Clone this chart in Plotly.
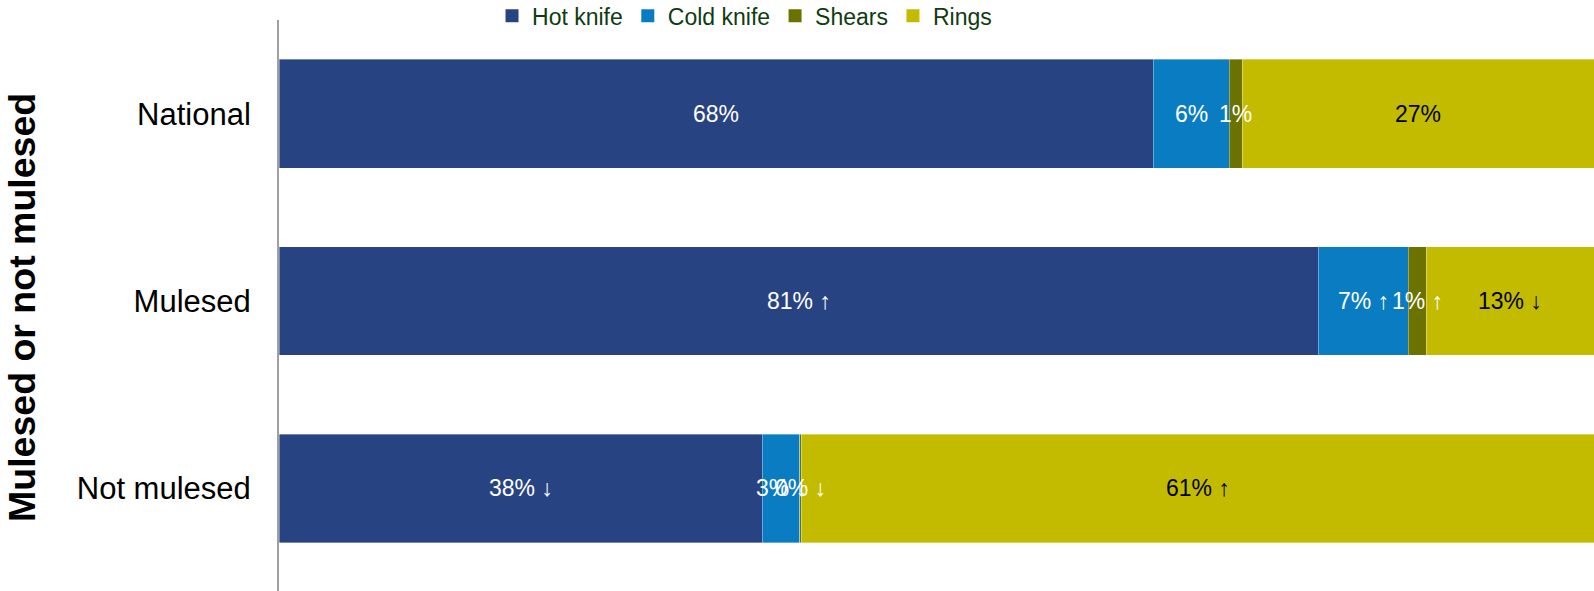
import plotly.graph_objects as go

categories = ["National", "Mulesed", "Not mulesed"]
series_names = ["Hot knife", "Cold knife", "Shears", "Rings"]
hot_knife = [67.8, 80.6, 37.5]
cold_knife = [5.9, 7.0, 2.9]
shears = [1.0, 1.4, 0.1]
rings = [27.3, 13.0, 61.5]
hot_labels = ["68%", "81% ↑", "38% ↓"]
cold_labels = ["6%", "7% ↑", "3% ↓"]
shears_labels = ["1%", "1% ↑", "0% ↓"]
rings_labels = ["27%", "13% ↓", "61% ↑"]

values = [hot_knife, cold_knife, shears, rings]
labels = [hot_labels, cold_labels, shears_labels, rings_labels]
colors = ["#284382", "#0A7CC2", "#6B7200", "#C3BB00"]
text_colors = ["white", "white", "white", "black"]

FONT = "Liberation Sans, Arial, sans-serif"

fig = go.Figure()
for name, vals, col in zip(series_names, values, colors):
    fig.add_trace(go.Bar(
        y=categories, x=vals, name=name, orientation="h",
        marker=dict(color=col, line=dict(color="rgba(255,255,255,0.45)", width=0.8)),
        width=0.58, showlegend=False,
    ))

# legend entries with square swatches
for name, col in zip(series_names, colors):
    fig.add_trace(go.Scatter(
        x=[None], y=[None], mode="markers", name=name,
        marker=dict(symbol="square", size=13, color=col),
        showlegend=True, hoverinfo="skip",
    ))

# data labels centred on each stacked segment (drawn above all bars)
starts = [0.0] * len(categories)
for vals, labs, tcol in zip(values, labels, text_colors):
    for j, cat in enumerate(categories):
        fig.add_annotation(
            x=starts[j] + vals[j] / 2, y=cat, xref="x", yref="y",
            text=labs[j], showarrow=False, xanchor="center", yanchor="middle",
            font=dict(size=23, color=tcol, family=FONT),
        )
        starts[j] += vals[j]

fig.update_layout(
    width=1594, height=591,
    barmode="stack",
    plot_bgcolor="white", paper_bgcolor="white",
    margin=dict(l=279, r=0, t=20, b=0, autoexpand=False),
    font=dict(family=FONT, color="black"),
    legend=dict(
        orientation="h", x=0.162, xanchor="left", y=1.045, yanchor="top",
        font=dict(size=23, color="#0F3C0F", family=FONT),
        bgcolor="rgba(0,0,0,0)", traceorder="normal", itemsizing="trace",
    ),
    showlegend=True,
)
fig.update_xaxes(range=[0, 102], visible=False, showgrid=False, zeroline=False)
fig.update_yaxes(
    type="category", categoryorder="array", categoryarray=categories,
    range=[2.548, -0.5],
    showline=True, linecolor="#A0A0A0", linewidth=2,
    showgrid=False, zeroline=False, ticks="",
    tickfont=dict(size=31, color="black", family=FONT),
    ticklabelstandoff=20,
)
fig.add_annotation(
    text="<b>Mulesed or not mulesed</b>", textangle=-90,
    xref="paper", yref="paper", x=(22 - 279) / 1315, y=(591 - 308) / 571,
    xanchor="center", yanchor="middle", showarrow=False,
    font=dict(size=37.5, color="black", family=FONT),
)

fig.write_html("out.html")
